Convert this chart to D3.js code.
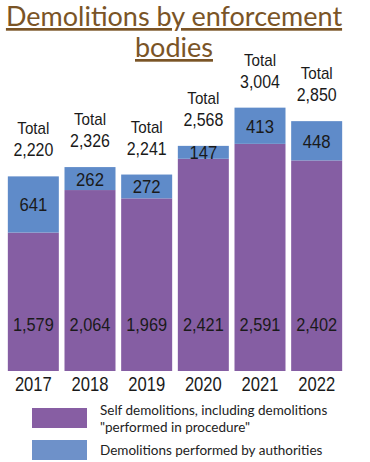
<!DOCTYPE html>
<html>
<head>
<meta charset="utf-8">
<script src="https://cdn.jsdelivr.net/npm/d3@7"></script>
<style>
  body { margin: 0; background: #fff; }
  svg { display: block; }
  .num { font-family: "Liberation Sans", Arial, sans-serif; fill: #1a1a1a; }
</style>
</head>
<body>
<svg width="370" height="462"></svg>
<script>
const svg = d3.select("svg");

const years = ["2017", "2018", "2019", "2020", "2021", "2022"];
const selfDemolitions = [1579, 2064, 1969, 2421, 2591, 2402];
const byAuthorities = [641, 262, 272, 147, 413, 448];
const totals = [2220, 2326, 2241, 2568, 3004, 2850];
const legendLabels = [
  ["Self demolitions, including demolitions", "\"performed in procedure\""],
  ["Demolitions performed by authorities"]
];
const colors = ["#855ea3", "#5f8bc9"];

// title
const title = svg.append("text")
  .attr("text-anchor", "middle")
  .attr("font-family", "Lato, 'Open Sans', sans-serif")
  .attr("font-size", 27)
  .attr("fill", "#7a5426")
  .attr("text-decoration", "underline");
title.append("tspan").attr("x", 174).attr("y", 26).text("Demolitions by enforcement");
title.append("tspan").attr("x", 174).attr("y", 57).text("bodies");

let x = d3.scaleBand()
  .domain(years)
  .range([5, 345])
  .paddingInner(0.1)
  .paddingOuter(0.05);

let y = d3.scaleLinear()
  .domain([0, 3000])
  .range([371, 108]);

let rows = years.map((yr, i) => ({
  year: yr, self: selfDemolitions[i], auth: byAuthorities[i], total: totals[i]
}));

let stack = d3.stack().keys(["self", "auth"])(rows);

let layers = svg.selectAll(".layer")
  .data(stack)
  .enter()
  .append("g")
  .attr("class", "layer")
  .attr("fill", (d, i) => colors[i]);

layers.selectAll("rect")
  .data(d => d)
  .enter()
  .append("rect")
  .attr("x", d => x(d.data.year))
  .attr("y", d => y(d[1]))
  .attr("width", x.bandwidth())
  .attr("height", d => y(d[0]) - y(d[1]));

const fmt = d3.format(",");
const cx = d => x(d.year) + x.bandwidth() / 2;

// narrow-ish label: a text squeezed horizontally around its anchor
function label(sel, size, sx) {
  return sel.append("text")
    .attr("class", "num")
    .attr("text-anchor", "middle")
    .attr("font-size", size)
    .attr("transform", `scale(${sx},1)`);
}

// self demolition labels near bottom
let selfG = svg.selectAll(".selfLabel")
  .data(rows)
  .enter()
  .append("g")
  .attr("transform", d => `translate(${cx(d)}, ${y(0) - 40})`);
label(selfG, 19, 0.86).text(d => fmt(d.self));

// authority labels centered in blue segment
let authG = svg.selectAll(".authLabel")
  .data(rows)
  .enter()
  .append("g")
  .attr("transform", d => `translate(${cx(d)}, ${(y(d.self) + y(d.total)) / 2 + 7})`);
label(authG, 19, 0.88).text(d => fmt(d.auth));

// totals
let tot = svg.selectAll(".total")
  .data(rows)
  .enter()
  .append("g")
  .attr("transform", d => `translate(${cx(d)}, ${y(d.total)})`);

label(tot, 19, 0.84).attr("y", -20).text(d => fmt(d.total));
label(tot, 16, 0.95).attr("y", -42).text("Total");

// year axis
let yearG = svg.selectAll(".year")
  .data(rows)
  .enter()
  .append("g")
  .attr("transform", d => `translate(${cx(d)}, ${y(0) + 20})`);
label(yearG, 20, 0.83).text(d => d.year);

// legend
let legend = svg.selectAll(".legend")
  .data(legendLabels)
  .enter()
  .append("g")
  .attr("transform", (d, i) => `translate(32, ${408 + i * 32})`);

legend.append("rect")
  .attr("width", 55)
  .attr("height", 20)
  .attr("fill", (d, i) => i === 0 ? "#875ea3" : "#6e91c9");

legend.append("text")
  .attr("font-family", "Lato, 'Open Sans', sans-serif")
  .attr("font-size", 13.5)
  .attr("fill", "#222")
  .selectAll("tspan")
  .data(d => d)
  .enter()
  .append("tspan")
  .attr("x", 68)
  .attr("y", (d, i, nodes) => nodes.length > 1 ? 7 + i * 17 : 15)
  .text(d => d);
</script>
</body>
</html>
